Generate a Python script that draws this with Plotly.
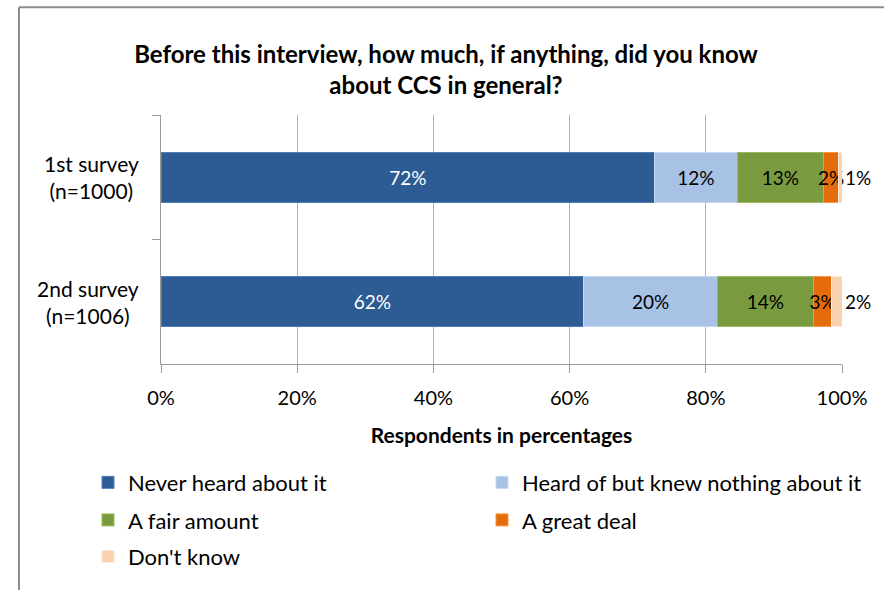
import plotly.graph_objects as go

# survey rows (top to bottom) and answer categories
surveys = ['1st survey<br>(n=1000)', '2nd survey<br>(n=1006)']
answers = ['Never heard about it', 'Heard of but knew nothing about it',
           'A fair amount', 'A great deal', "Don't know"]

shares = {
    'Never heard about it': [72.5, 62.1],
    'Heard of but knew nothing about it': [12.1, 19.6],
    'A fair amount': [12.7, 14.1],
    'A great deal': [2.2, 2.7],
    "Don't know": [0.5, 1.5],
}
labels = {
    'Never heard about it': ['72%', '62%'],
    'Heard of but knew nothing about it': ['12%', '20%'],
    'A fair amount': ['13%', '14%'],
    'A great deal': ['2%', '3%'],
    "Don't know": ['1%', '2%'],
}
x_ticks = [0, 20, 40, 60, 80, 100]

colors = ['#2d5b93', '#a7c2e5', '#7a9a3f', '#e46c0a', '#f9d3b0']
edges = ['#4a7ebb', '#c6d9f1', '#9bbb59', '#f79646', '#fde9d9']
text_colors = ['white', 'black', 'black', 'black', 'black']

FONT = 'Lato, Calibri, Arial, sans-serif'

# one small legend per entry: two columns, three rows (pixel positions)
legend_ids = ['legend', 'legend2', 'legend3', 'legend4', 'legend5']
legend_pos = [(88, 487), (482, 487), (88, 525), (482, 525), (88, 562)]

fig = go.Figure()
for i, name in enumerate(answers):
    fig.add_trace(go.Bar(
        y=surveys,
        x=shares[name],
        name=name,
        orientation='h',
        text=labels[name],
        textposition='outside' if name == "Don't know" else 'inside',
        insidetextanchor='middle',
        textangle=0,
        textfont=dict(size=19, color=text_colors[i], family=FONT),
        marker=dict(color=colors[i], line=dict(color=edges[i], width=1)),
        cliponaxis=False,
        hoverinfo='skip',
        legend=legend_ids[i],
    ))

# plot area in pixels: x 161..842, y 115..367
L, R, T, B = 161, 42, 115, 223
W, H = 884, 590
pw, ph = W - L - R, H - T - B

def px_x(p):
    return (p - L) / pw

def px_y(p):
    return (H - B - p) / ph

legends = {}
for lid, (lx, ly) in zip(legend_ids, legend_pos):
    legends[lid] = dict(
        orientation='h',
        x=px_x(lx), xanchor='left',
        y=px_y(ly), yanchor='middle',
        font=dict(size=22, family=FONT),
        itemwidth=30,
        bgcolor='rgba(0,0,0,0)',
    )

fig.update_layout(
    width=W, height=H,
    margin=dict(l=L, r=R, t=T, b=B),
    barmode='stack',
    bargap=0.6,
    plot_bgcolor='white',
    paper_bgcolor='white',
    font=dict(family=FONT, size=20, color='black'),
    uniformtext=dict(minsize=19, mode='show'),
    title=dict(
        text='<b>Before this interview, how much, if anything, did you know<br>about CCS in general?</b>',
        x=446 / W, xanchor='center',
        y=1 - 62.5 / H, yanchor='middle',
        font=dict(size=24, family=FONT),
    ),
    xaxis=dict(
        range=[0, 100],
        tickvals=x_ticks,
        ticktext=[f'{v}%' for v in x_ticks],
        showgrid=True, gridcolor='#b3b3b3', gridwidth=1,
        showline=True, linecolor='#9a9a9a', linewidth=1,
        ticks='outside', ticklen=8, tickcolor='#9a9a9a',
        ticklabelstandoff=8,
        tickfont=dict(size=20),
        zeroline=False,
        title=dict(text='<b>Respondents in percentages</b>', standoff=20,
                   font=dict(size=21)),
    ),
    yaxis=dict(
        autorange='reversed',
        showticklabels=False,
        showline=True, linecolor='#9a9a9a', linewidth=1,
        ticks='outside', ticklen=8, tickcolor='#9a9a9a',
        tickson='boundaries',
        showgrid=False,
    ),
    showlegend=True,
    **legends,
)

# survey labels, centred line by line
for s in surveys:
    fig.add_annotation(
        x=px_x(141), xref='paper', xanchor='right',
        y=s, yref='y', yanchor='middle',
        text=s, showarrow=False, align='center',
        font=dict(size=21),
    )

# chart frame (left and top edges; the rest is cropped)
fig.add_shape(type='line', xref='paper', yref='paper',
              x0=px_x(19), x1=px_x(19), y0=px_y(600), y1=px_y(6),
              line=dict(color='#8c8c8c', width=2))
fig.add_shape(type='line', xref='paper', yref='paper',
              x0=px_x(19), x1=px_x(884), y0=px_y(6), y1=px_y(6),
              line=dict(color='#8c8c8c', width=2))

# page body has a default margin; drop it so the figure fills the window
fig.write_html('out.html', config={'displayModeBar': False},
               post_script="document.body.style.margin='0';")
